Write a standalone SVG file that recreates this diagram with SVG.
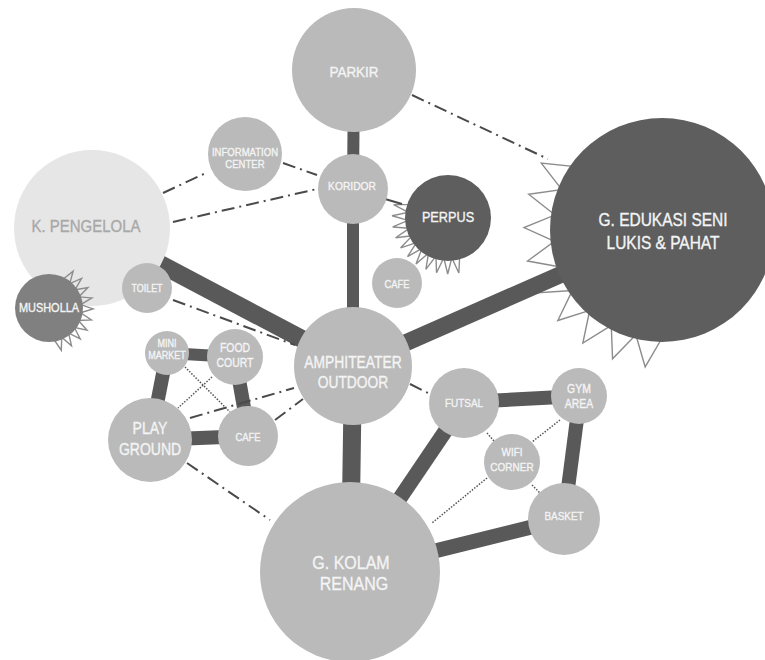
<svg xmlns="http://www.w3.org/2000/svg" xmlns:xlink="http://www.w3.org/1999/xlink" width="765" height="660" viewBox="0 0 765 660">
<style>
.n{fill:#bababa}
.d{fill:#5e5e5e}
.t{fill:#f4f4f4;stroke:#f4f4f4;stroke-width:0.35;font-family:"Liberation Sans",Arial,sans-serif;text-anchor:middle}
.thick{stroke:#595959;fill:none}
.dd{stroke:#4a4a4a;stroke-width:2;fill:none;stroke-dasharray:13 5 2 5}
.dot{stroke:#555;stroke-width:1.5;fill:none;stroke-dasharray:1.5 1.5}
.sp{fill:none;stroke:#8c8c8c;stroke-width:1.4}
</style>
<defs>
<polygon id="spE" points="107.2,-13.2 138,0 107.2,13.2"/>
<polygon id="spP" points="39.8,-4 56,0 39.8,4"/>
<polygon id="spM" points="31.7,-4 44,0 31.7,4"/>
</defs>
<rect width="765" height="660" fill="#ffffff"/>
<g id="spikes" class="sp">
<g transform="translate(662,230)">
<use href="#spE" transform="rotate(97)"/><use href="#spE" transform="rotate(111)"/><use href="#spE" transform="rotate(125)"/><use href="#spE" transform="rotate(139)"/><use href="#spE" transform="rotate(153)"/><use href="#spE" transform="rotate(167)"/><use href="#spE" transform="rotate(181)"/><use href="#spE" transform="rotate(195)"/><use href="#spE" transform="rotate(209)"/>
</g>
<g transform="translate(448,218)">
<use href="#spP" transform="rotate(78.8)"/><use href="#spP" transform="rotate(90.3)"/><use href="#spP" transform="rotate(101.8)"/><use href="#spP" transform="rotate(113.3)"/><use href="#spP" transform="rotate(124.8)"/><use href="#spP" transform="rotate(136.3)"/><use href="#spP" transform="rotate(147.8)"/><use href="#spP" transform="rotate(159.3)"/><use href="#spP" transform="rotate(170.8)"/><use href="#spP" transform="rotate(182.3)"/><use href="#spP" transform="rotate(193.8)"/>
</g>
</g>
<g id="connectors">
<line class="thick" stroke-width="12" x1="354" y1="70" x2="353" y2="189"/>
<line class="thick" stroke-width="12" x1="353" y1="189" x2="353" y2="366"/>
<line class="thick" stroke-width="18" x1="92" y1="228" x2="353" y2="366"/>
<line class="thick" stroke-width="17" x1="353" y1="366" x2="662" y2="230"/>
<line class="thick" stroke-width="18" x1="353" y1="366" x2="350" y2="572"/>
<line class="thick" stroke-width="15" x1="350" y1="572" x2="465" y2="402"/>
<line class="thick" stroke-width="15" x1="350" y1="572" x2="564" y2="519"/>
<line class="thick" stroke-width="14" x1="465" y1="402" x2="580" y2="396"/>
<line class="thick" stroke-width="14" x1="580" y1="396" x2="564" y2="519"/>
<line class="thick" stroke-width="12" x1="167" y1="353" x2="235" y2="357"/>
<line class="thick" stroke-width="14" x1="167" y1="353" x2="150" y2="440"/>
<line class="thick" stroke-width="14" x1="235" y1="357" x2="249" y2="436"/>
<line class="thick" stroke-width="14" x1="150" y1="440" x2="249" y2="436"/>
<line class="dd" x1="412" y1="95" x2="548" y2="159"/>
<line class="dd" x1="163" y1="193" x2="208" y2="172"/>
<line class="dd" x1="283" y1="163" x2="317" y2="175"/>
<line class="dd" x1="173" y1="222" x2="317" y2="189"/>
<line class="dd" x1="173" y1="300" x2="295" y2="345"/>
<line class="dd" x1="190" y1="418" x2="294" y2="388"/>
<line class="dd" x1="275" y1="420" x2="303" y2="399"/>
<line class="dd" x1="187" y1="463" x2="270" y2="520"/>
<line class="dd" x1="410" y1="384" x2="430" y2="394"/>
<line stroke="#4a4a4a" stroke-width="2" x1="385" y1="199" x2="402" y2="204"/>
<line class="dot" x1="185" y1="367" x2="230" y2="412"/>
<line class="dot" x1="212" y1="377" x2="178" y2="408"/>
<line class="dot" x1="487" y1="433" x2="494" y2="441"/>
<line class="dot" x1="560" y1="420" x2="532" y2="442"/>
<line class="dot" x1="532" y1="485" x2="540" y2="493"/>
<line class="dot" x1="487" y1="478" x2="432" y2="523"/>
</g>
<g id="k-pengelola">
<circle cx="92" cy="228" r="78" fill="#e6e6e6"/>
<text class="t" transform="matrix(0.87 0 0 1 86 232.2)" font-size="17.2" style="fill:#a8a8a8;stroke:#a8a8a8">K. PENGELOLA</text>
</g>
<g id="musholla">
<g class="sp" transform="translate(49,308)">
<use href="#spM" transform="rotate(-56.75)"/><use href="#spM" transform="rotate(-42.25)"/><use href="#spM" transform="rotate(-27.75)"/><use href="#spM" transform="rotate(-13.25)"/><use href="#spM" transform="rotate(1.25)"/><use href="#spM" transform="rotate(15.75)"/><use href="#spM" transform="rotate(30.25)"/><use href="#spM" transform="rotate(44.75)"/><use href="#spM" transform="rotate(59.25)"/><use href="#spM" transform="rotate(73.75)"/>
</g>
<circle cx="49" cy="308" r="34" fill="#808080"/>
<text class="t" transform="matrix(0.87 0 0 1 49 311.5)" font-size="12.6">MUSHOLLA</text>
</g>
<g id="parkir">
<circle class="n" cx="354" cy="70" r="62"/>
<text class="t" transform="matrix(0.87 0 0 1 354 76.5)" font-size="15.5">PARKIR</text>
</g>
<g id="information-center">
<circle class="n" cx="245" cy="154" r="37"/>
<text class="t" transform="matrix(0.87 0 0 1 245 155.9)" font-size="11">INFORMATION</text>
<text class="t" transform="matrix(0.87 0 0 1 245 167.9)" font-size="11">CENTER</text>
</g>
<g id="koridor">
<circle class="n" cx="353" cy="189" r="35"/>
<text class="t" transform="matrix(0.87 0 0 1 352 190.2)" font-size="11.8">KORIDOR</text>
</g>
<g id="toilet">
<circle class="n" cx="147" cy="288" r="25"/>
<text class="t" transform="matrix(0.87 0 0 1 147 291.7)" font-size="10.3">TOILET</text>
</g>
<g id="perpus">
<circle class="d" cx="448" cy="218" r="43"/>
<text class="t" transform="matrix(0.87 0 0 1 448 222.2)" font-size="14.6">PERPUS</text>
</g>
<g id="cafe-1">
<circle class="n" cx="397" cy="283" r="25"/>
<text class="t" transform="matrix(0.87 0 0 1 397 287.9)" font-size="10.8">CAFE</text>
</g>
<g id="g-edukasi">
<circle class="d" cx="662" cy="230" r="112"/>
<text class="t" transform="matrix(0.87 0 0 1 663 226.4)" font-size="17.8">G. EDUKASI SENI</text>
<text class="t" transform="matrix(0.87 0 0 1 663 249.4)" font-size="17.8">LUKIS &amp; PAHAT</text>
</g>
<g id="amphiteater">
<circle class="n" cx="353" cy="366" r="59"/>
<text class="t" transform="matrix(0.87 0 0 1 353 367.7)" font-size="15.9">AMPHITEATER</text>
<text class="t" transform="matrix(0.87 0 0 1 353 387.7)" font-size="15.9">OUTDOOR</text>
</g>
<g id="mini-market">
<circle class="n" cx="167" cy="353" r="22"/>
<text class="t" transform="matrix(0.87 0 0 1 167 346.7)" font-size="10.3">MINI</text>
<text class="t" transform="matrix(0.87 0 0 1 167 358.7)" font-size="10.3">MARKET</text>
</g>
<g id="food-court">
<circle class="n" cx="235" cy="357" r="28"/>
<text class="t" transform="matrix(0.87 0 0 1 235 352.3)" font-size="12">FOOD</text>
<text class="t" transform="matrix(0.87 0 0 1 235 367.3)" font-size="12">COURT</text>
</g>
<g id="play-ground">
<circle class="n" cx="150" cy="440" r="42"/>
<text class="t" transform="matrix(0.87 0 0 1 150 433.8)" font-size="16.1">PLAY</text>
<text class="t" transform="matrix(0.87 0 0 1 150 454.8)" font-size="16.1">GROUND</text>
</g>
<g id="cafe-2">
<circle class="n" cx="248" cy="436" r="30"/>
<text class="t" transform="matrix(0.87 0 0 1 248 440.9)" font-size="10.8">CAFE</text>
</g>
<g id="futsal">
<circle class="n" cx="464" cy="403" r="35"/>
<text class="t" transform="matrix(0.87 0 0 1 464 407.1)" font-size="11.4">FUTSAL</text>
</g>
<g id="gym-area">
<circle class="n" cx="579" cy="396" r="28"/>
<text class="t" transform="matrix(0.87 0 0 1 579 393.3)" font-size="12">GYM</text>
<text class="t" transform="matrix(0.87 0 0 1 579 408.3)" font-size="12">AREA</text>
</g>
<g id="wifi-corner">
<circle class="n" cx="512" cy="462" r="28"/>
<text class="t" transform="matrix(0.87 0 0 1 512 456.1)" font-size="11.5">WIFI</text>
<text class="t" transform="matrix(0.87 0 0 1 512 471.1)" font-size="11.5">CORNER</text>
</g>
<g id="basket">
<circle class="n" cx="564" cy="519" r="36"/>
<text class="t" transform="matrix(0.87 0 0 1 564 520.1)" font-size="11.4">BASKET</text>
</g>
<g id="g-kolam-renang">
<circle class="n" cx="350" cy="572" r="90"/>
<text class="t" transform="matrix(0.87 0 0 1 351 568.6)" font-size="18.4">G. KOLAM</text>
<text class="t" transform="matrix(0.87 0 0 1 354 589.6)" font-size="18.4">RENANG</text>
</g>
</svg>
